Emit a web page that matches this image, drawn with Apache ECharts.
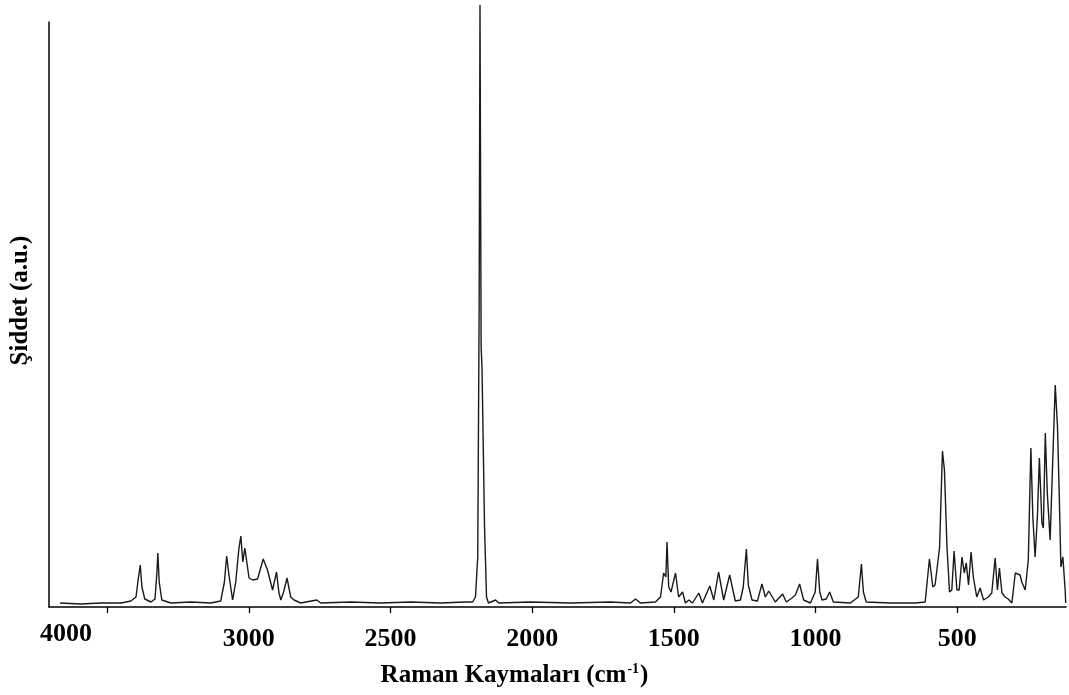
<!DOCTYPE html>
<html>
<head>
<meta charset="utf-8">
<script src="https://cdn.jsdelivr.net/npm/echarts@6/dist/echarts.min.js"></script>
<style>
  html, body { margin: 0; padding: 0; background: #fff; }
  #chart { width: 1069px; height: 695px; }
</style>
</head>
<body>
<div id="chart"></div>
<script>
// Raman shift (cm-1), high to low
const shifts = [
  3666, 3592, 3522, 3451, 3416, 3398, 3390, 3383, 3377, 3367, 3345, 3331, 3324, 3321, 3316, 3307,
  3275, 3204, 3134, 3099, 3086, 3078, 3069, 3057, 3046, 3035, 3028, 3021, 3014, 2999, 2986, 2969,
  2949, 2934, 2916, 2902, 2894, 2887, 2877, 2865, 2852, 2840, 2817, 2760, 2746, 2640, 2535, 2429,
  2323, 2235, 2210, 2200, 2192, 2187, 2184, 2180, 2177, 2173, 2168, 2161, 2154, 2129, 2118, 2006,
  1865, 1724, 1653, 1635, 1618, 1565, 1547, 1536, 1528, 1524, 1518, 1510, 1494, 1483, 1469, 1459,
  1447, 1434, 1412, 1399, 1373, 1359, 1342, 1324, 1303, 1283, 1265, 1255, 1244, 1237, 1224, 1205,
  1189, 1177, 1165, 1142, 1116, 1103, 1083, 1071, 1056, 1042, 1018, 1001, 993, 985, 977, 962,
  950, 937, 877, 849, 838, 831, 821, 736, 648, 613, 606, 598, 586, 578, 562, 552,
  545, 536, 527, 519, 511, 501, 493, 483, 475, 468, 460, 451, 443, 431, 419, 407,
  390, 378, 366, 358, 351, 342, 331, 320, 307, 295, 278, 272, 260, 249, 240, 233,
  225, 217, 210, 201, 196, 189, 182, 172, 165, 154, 146, 140, 134, 127, 119, 117
];

// intensity (a.u.), same order
const intensity = [
  4, 3, 4, 4, 6, 10, 28, 42, 20, 8, 5, 8, 35, 54, 25, 7,
  4, 5, 4, 6, 25, 51, 30, 7, 25, 58, 71, 45, 59, 29, 27, 28,
  48, 37, 17, 35, 15, 7, 15, 29, 10, 7, 4, 7, 4, 5, 4, 5,
  4, 5, 5, 10, 50, 300, 602, 260, 240, 170, 80, 10, 4, 7, 4, 5,
  4, 5, 4, 8, 4, 5, 10, 34, 30, 65, 20, 15, 34, 10, 15, 4,
  7, 4, 14, 4, 21, 7, 35, 7, 32, 6, 7, 20, 58, 22, 7, 6,
  23, 10, 16, 5, 13, 5, 9, 12, 23, 7, 4, 15, 48, 15, 7, 8,
  15, 5, 4, 10, 43, 15, 5, 4, 4, 5, 25, 48, 20, 22, 60, 156,
  137, 60, 15, 17, 56, 17, 17, 50, 34, 44, 22, 55, 30, 10, 19, 7,
  10, 14, 49, 17, 39, 14, 10, 8, 4, 34, 32, 25, 17, 47, 159, 90,
  50, 90, 149, 84, 79, 174, 114, 67, 67, 222, 180, 114, 40, 50, 17, 4
];

// tick marks and where the printed labels sit
const tickValues = [3500, 3000, 2500, 2000, 1500, 1000, 500];
const labelValues = [3645, 3000, 2500, 2000, 1500, 1000, 500];
const labelTexts = ['4000', '3000', '2500', '2000', '1500', '1000', '500'];

const serif = '"Liberation Serif", "DejaVu Serif", serif';

const chart = echarts.init(document.getElementById('chart'));

chart.setOption({
  animation: false,
  backgroundColor: '#fff',
  grid: { left: 48, right: 3, top: 22, bottom: 88 },
  xAxis: {
    type: 'value',
    inverse: true,
    min: 116,
    max: 3705,
    name: '{t|Raman Kaymaları (cm}{s|-1}{t|)}',
    nameLocation: 'middle',
    nameGap: 55,
    nameTextStyle: {
      padding: [0, 86, 0, 0],
      rich: {
        t: { fontFamily: serif, fontWeight: 'bold', fontSize: 25, color: '#000', lineHeight: 28 },
        s: { fontFamily: serif, fontWeight: 'bold', fontSize: 14, color: '#000', verticalAlign: 'top', lineHeight: 28, padding: [0, 1, 12, 1] }
      }
    },
    axisLine: { lineStyle: { color: '#000', width: 1.5 } },
    axisTick: { show: true, customValues: tickValues, length: 6, lineStyle: { color: '#000', width: 1.3 } },
    axisLabel: {
      customValues: labelValues,
      margin: 19,
      fontFamily: serif,
      fontWeight: 'bold',
      fontSize: 26,
      color: '#000',
      formatter: (v) => {
        const i = labelValues.indexOf(v);
        const txt = i >= 0 ? labelTexts[i] : '';
        return i === 0 ? '{hi|' + txt + '}' : txt;
      },
      rich: {
        hi: { fontFamily: serif, fontWeight: 'bold', fontSize: 26, color: '#000', lineHeight: 16 }
      }
    },
    splitLine: { show: false }
  },
  yAxis: {
    type: 'value',
    min: 0,
    max: 585,
    name: 'Şiddet (a.u.)',
    nameLocation: 'middle',
    nameGap: 16,
    nameTextStyle: {
      fontFamily: serif,
      fontWeight: 'bold',
      fontSize: 25,
      color: '#000',
      padding: [0, 0, 0, 28]
    },
    axisLine: { show: true, lineStyle: { color: '#000', width: 1.5 } },
    axisTick: { show: false },
    axisLabel: { show: false },
    splitLine: { show: false }
  },
  series: [{
    type: 'line',
    data: shifts.map((s, i) => [s, intensity[i]]),
    showSymbol: false,
    clip: false,
    lineStyle: { color: '#1a1a1a', width: 1.4 }
  }]
});
</script>
</body>
</html>
